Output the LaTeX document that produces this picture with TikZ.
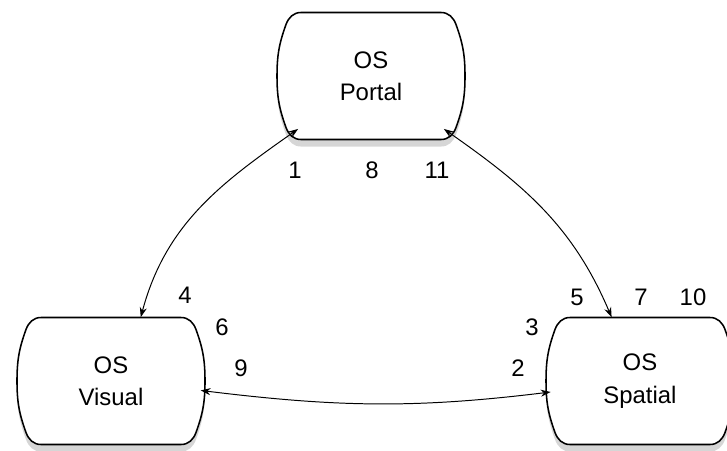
\documentclass[tikz,border=0pt]{standalone}
\usepackage{fontspec}
\setmainfont{Liberation Sans}
\usetikzlibrary{shapes.misc,arrows.meta}

\tikzset{
  osline/.style={draw, line width=1.1pt, fill=white},
  osshade/.style={fill=black!40, opacity=.4},
  oslabel/.style={rounded rectangle, rounded rectangle arc length=90,
    minimum width=4.7cm, minimum height=3.175cm, align=center,
    font=\fontsize{17}{23}\selectfont},
  step num/.style={font=\fontsize{17}{20}\selectfont}
}
% outline of a box, about its centre (bulging sides, rounded corners)
\newcommand{\ospath}{(-70,63.5) -- (70,63.5) to[out=0,in=110] (85,51.5)
  to[out=-70,in=90] (94,0) to[out=-90,in=70] (85,-51.5) to[out=-110,in=0] (70,-63.5)
  -- (-70,-63.5) to[out=180,in=-70] (-85,-51.5) to[out=110,in=-90] (-94,0)
  to[out=90,in=-110] (-85,51.5) to[out=70,in=180] cycle}
\newcommand{\osbox}[3]{%
  \path[osshade, shift={(#2)}, yshift=-5] \ospath;
  \path[osline, shift={(#2)}] \ospath;
  \node[oslabel] (#1) at (#2) {#3};}

\begin{document}
\begin{tikzpicture}[x=0.025cm,y=0.025cm]
\useasboundingbox (0,0) rectangle (727,450);

\osbox{Portal}{371,374}{OS\\Portal}
\osbox{Visual}{111,69}{OS\\Visual}
\osbox{Spatial}{640,69}{OS\\Spatial}

\path[{Stealth[length=7pt,width=5pt]}-{Stealth[length=7pt,width=5pt]},line width=0.7pt]
  (Portal.216) edge [out=215,in=75] (Visual.65)
  (Portal.-36) edge [out=-35,in=113] (Spatial.114)
  (Visual.-6) edge [out=-7,in=187] (Spatial.187);

% step numbers
\foreach \n/\x/\y in {1/295/280, 8/372/280, 11/437/280,
                      4/185/155, 6/222/123, 9/241/82,
                      5/577/153, 7/641/153, 10/693/153,
                      3/532/123, 2/518/82}
  \node[step num] (n\n) at (\x,\y) {\n};
\end{tikzpicture}
\end{document}
